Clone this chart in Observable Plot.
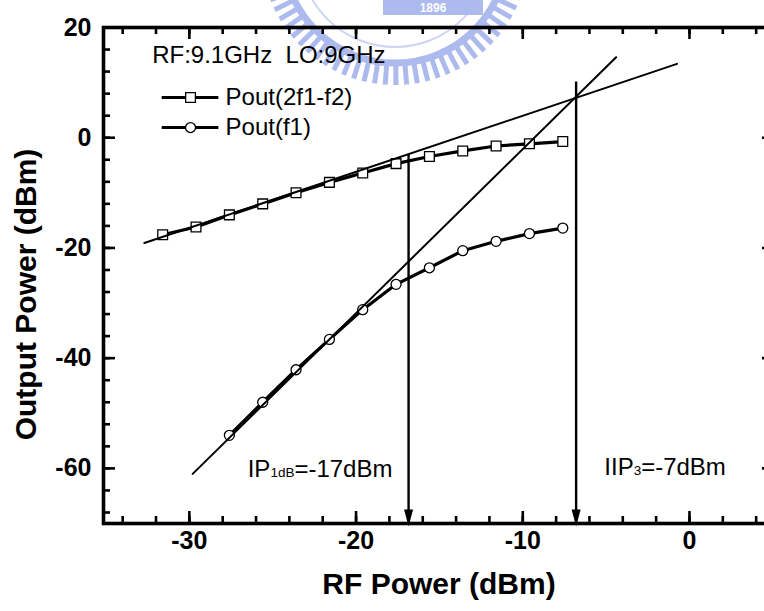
<!DOCTYPE html>
<html>
<head>
<meta charset="utf-8">
<script src="https://cdn.jsdelivr.net/npm/d3@7"></script>
<script src="https://cdn.jsdelivr.net/npm/@observablehq/plot@0.6"></script>
<style>
html,body{margin:0;padding:0;background:#fff;overflow:hidden}
#wrap{position:relative;width:764px;height:611px}
#wm{position:absolute;left:0;top:0;z-index:0}
#chart{position:absolute;left:0;top:0;z-index:1}
#axes{position:absolute;left:0;top:0;z-index:2}
#chart svg,#axes svg{display:block}
#chart text{white-space:pre}
</style>
</head>
<body>
<div id="wrap"><svg id="wm" width="764" height="611"></svg><div id="chart"></div><div id="axes"></div></div>
<script>
// ---------- data ----------
const rfPowerIM = [-31.6, -29.6, -27.6, -25.6, -23.6, -21.6, -19.6, -17.6, -15.6, -13.6, -11.6, -9.6, -7.6];
const pout2f1f2 = [-17.6, -16.2, -14.0, -12.0, -10.0, -8.1, -6.4, -4.7, -3.4, -2.4, -1.5, -1.1, -0.7];
const rfPowerF1 = [-27.6, -25.6, -23.6, -21.6, -19.6, -17.6, -15.6, -13.6, -11.6, -9.6, -7.6];
const poutF1 = [-54.0, -48.0, -42.1, -36.6, -31.2, -26.6, -23.6, -20.5, -18.8, -17.4, -16.4];

// extrapolated straight lines (end points)
const steepFitX = [-29.8, -4.4];
const steepFitY = [-61.0, 14.6];
const shallowFitX = [-32.7, -0.75];
const shallowFitY = [-19.1, 13.4];

// vertical marker arrows (IP1dB and IIP3)
const arrowX = [-16.85, -6.8];
const arrowTopY = [-3.2, 10.1];

// axes
const xDomain = [-35.15, 5.1];
const yDomain = [-70, 20];
const xTickLabels = [-30, -20, -10, 0];
const yTickLabels = [-60, -40, -20, 0, 20];
const xMinorTicks = [-34, -32, -30, -28, -26, -24, -22, -20, -18, -16, -14, -12, -10, -8, -6, -4, -2, 0, 2, 4];
const yMinorTicks = [-68, -64, -60, -56, -52, -48, -44, -40, -36, -32, -28, -24, -20, -16, -12, -8, -4, 0, 4, 8, 12, 16, 20];

// legend
const legendLabels = ["Pout(2f1-f2)", "Pout(f1)"];
const legendSymbols = ["square", "circle"];
const legendY = [7.3, 1.85];
const legendLineX = [-31.63, -28.23];
const legendMarkerX = -29.93;
const legendTextX = -27.83;

// annotations
const annotationTexts = ["RF:9.1GHz  LO:9GHz", "IP1dB=-17dBm", "IIP3=-7dBm"];
const annotationX = [-32.23, -26.5, -5.11];
const annotationY = [15.0, -60.2, -59.8];

const xLabel = "RF Power (dBm)";
const yLabel = "Output Power (dBm)";

// ---------- build ----------
const W = 764, H = 611;
const mL = 103, mR = -10, mT = 27, mB = 88;
const innerW = W - mL - mR, innerH = H - mT - mB;
const xPerPx = (xDomain[1] - xDomain[0]) / innerW;
const yPerPx = (yDomain[1] - yDomain[0]) / innerH;
const font = "'Liberation Sans', Arial, Helvetica, sans-serif";

const imRows = rfPowerIM.map((x, i) => ({x, y: pout2f1f2[i]}));
const f1Rows = rfPowerF1.map((x, i) => ({x, y: poutF1[i]}));
const steepRows = steepFitX.map((x, i) => ({x, y: steepFitY[i]}));
const shallowRows = shallowFitX.map((x, i) => ({x, y: shallowFitY[i]}));
const arrowRows = arrowX.map((x, i) => ({x, top: arrowTopY[i]}));
const legendRows = legendLabels.map((label, i) => ({label, symbol: legendSymbols[i], y: legendY[i]}));
const annRows = annotationTexts.map((text, i) => ({text, x: annotationX[i], y: annotationY[i]}));

const majorLen = 12, minorLen = 7, tickW = 2.6;
const sqR = 5.5, cirR = 5;

const arrowHead = {
  draw(ctx) { ctx.moveTo(0, 0); ctx.lineTo(-4.5, -17); ctx.lineTo(4.5, -17); ctx.closePath(); }
};

const base = {
  width: W, height: H,
  marginLeft: mL, marginRight: mR, marginTop: mT, marginBottom: mB,
  x: {domain: xDomain, axis: null},
  y: {domain: yDomain, axis: null},
  style: {fontFamily: font, background: "transparent", color: "black"}
};

function xTickMarks(values, len) {
  return [
    Plot.ruleX(values, {x: d => d, y1: () => yDomain[0], y2: () => yDomain[0] + len * yPerPx, stroke: "black", strokeWidth: tickW}),
    Plot.ruleX(values, {x: d => d, y1: () => yDomain[1], y2: () => yDomain[1] - len * yPerPx, stroke: "black", strokeWidth: tickW})
  ];
}
function yTickMarks(values, len) {
  return [
    Plot.ruleY(values, {y: d => d, x1: () => xDomain[0], x2: () => xDomain[0] + len * xPerPx, stroke: "black", strokeWidth: tickW}),
    Plot.ruleY(values, {y: d => d, x1: () => xDomain[1], x2: () => xDomain[1] - len * xPerPx, stroke: "black", strokeWidth: tickW})
  ];
}

// main layer: labels, data, annotations
const chart = Plot.plot({
  ...base,
  marks: [
    // tick labels
    Plot.text(xTickLabels, {x: d => d, text: d => `${d}`, frameAnchor: "bottom", dy: 25,
      fontSize: 25, fontWeight: "bold"}),
    Plot.text(yTickLabels, {y: d => d, text: d => `${d}`, frameAnchor: "left", dx: -12,
      textAnchor: "end", fontSize: 25, fontWeight: "bold"}),

    // axis titles
    Plot.text([xLabel], {frameAnchor: "bottom", dy: 70.5, textAnchor: "middle", fontSize: 30, fontWeight: "bold"}),
    Plot.text([yLabel], {frameAnchor: "left", dx: -77, dy: 19, rotate: -90, textAnchor: "middle",
      fontSize: 30, fontWeight: "bold"}),

    // data series
    Plot.line(imRows, {x: "x", y: "y", stroke: "black", strokeWidth: 3.2}),
    Plot.line(f1Rows, {x: "x", y: "y", stroke: "black", strokeWidth: 3.2}),
    Plot.dot(imRows, {x: "x", y: "y", symbol: "square", r: sqR, fill: "white", stroke: "black", strokeWidth: 1.3}),
    Plot.dot(f1Rows, {x: "x", y: "y", symbol: "circle", r: cirR, fill: "white", stroke: "black", strokeWidth: 1.3}),

    // extrapolation lines
    Plot.line(steepRows, {x: "x", y: "y", stroke: "black", strokeWidth: 2}),
    Plot.line(shallowRows, {x: "x", y: "y", stroke: "black", strokeWidth: 2}),

    // arrows
    Plot.ruleX(arrowRows, {x: "x", y1: "top", y2: () => yDomain[0], stroke: "black", strokeWidth: 2.4}),
    Plot.dot(arrowRows, {x: "x", y: () => yDomain[0], symbol: arrowHead, fill: "black", stroke: "none", dy: 3}),

    // legend
    Plot.ruleY(legendRows, {y: "y", x1: () => legendLineX[0], x2: () => legendLineX[1], stroke: "black", strokeWidth: 3}),
    Plot.dot(legendRows.filter(d => d.symbol === "square"), {x: () => legendMarkerX, y: "y", symbol: "square", r: sqR,
      fill: "white", stroke: "black", strokeWidth: 1.3}),
    Plot.dot(legendRows.filter(d => d.symbol === "circle"), {x: () => legendMarkerX, y: "y", symbol: "circle", r: cirR,
      fill: "white", stroke: "black", strokeWidth: 1.3}),
    Plot.text(legendRows, {x: () => legendTextX, y: "y", text: "label", textAnchor: "start", fontSize: 24}),

    // annotations
    Plot.text(annRows, {x: "x", y: "y", text: "text", textAnchor: "start", fontSize: 24})
  ]
});
document.getElementById("chart").append(chart);

// axis layer: inward ticks and the heavy frame, same scales
const axes = Plot.plot({
  ...base,
  marks: [
    ...xTickMarks(xMinorTicks, minorLen),
    ...xTickMarks(xTickLabels, majorLen),
    ...yTickMarks(yMinorTicks, minorLen),
    ...yTickMarks(yTickLabels, majorLen),
    Plot.frame({stroke: "black", strokeWidth: 3.6})
  ]
});
document.getElementById("axes").append(axes);

// subscripts
const NS = "http://www.w3.org/2000/svg";
function subscript(full, pre, sub, post, size) {
  chart.querySelectorAll("text").forEach(t => {
    if (t.textContent === full) {
      t.textContent = "";
      const a = document.createElementNS(NS, "tspan"); a.textContent = pre;
      const b = document.createElementNS(NS, "tspan"); b.textContent = sub; b.setAttribute("font-size", size);
      const c = document.createElementNS(NS, "tspan"); c.textContent = post;
      t.append(a, b, c);
    }
  });
}
subscript("IP1dB=-17dBm", "IP", "1dB", "=-17dBm", 13.5);
subscript("IIP3=-7dBm", "IIP", "3", "=-7dBm", 13.5);

// faint watermark (logo fragment) in a separate layer behind the chart
const wmColor = "#9eaeeb";
const wm = d3.select("#wm").append("g").attr("fill", "none").attr("stroke", wmColor).attr("opacity", 0.85);
const wcx = 395, wcy = -49;
d3.range(16, 165, 4.6).forEach(a => {
  const r = a * Math.PI / 180;
  wm.append("line")
    .attr("x1", wcx + 112 * Math.cos(r)).attr("y1", wcy + 112 * Math.sin(r))
    .attr("x2", wcx + 134 * Math.cos(r)).attr("y2", wcy + 134 * Math.sin(r))
    .attr("stroke-width", 5);
});
wm.append("circle").attr("cx", wcx).attr("cy", wcy).attr("r", 112).attr("stroke-width", 7);
wm.append("circle").attr("cx", wcx).attr("cy", wcy).attr("r", 96).attr("stroke-width", 2).attr("opacity", 0.6);
wm.append("rect").attr("x", 383).attr("y", -10).attr("width", 100).attr("height", 25).attr("fill", wmColor).attr("stroke", "none");
wm.append("text").attr("x", 433).attr("y", 12).attr("text-anchor", "middle").attr("fill", "white").attr("stroke", "none")
  .attr("font-size", 12).attr("font-weight", "bold").attr("font-family", font).text("1896");
</script>
</body>
</html>
